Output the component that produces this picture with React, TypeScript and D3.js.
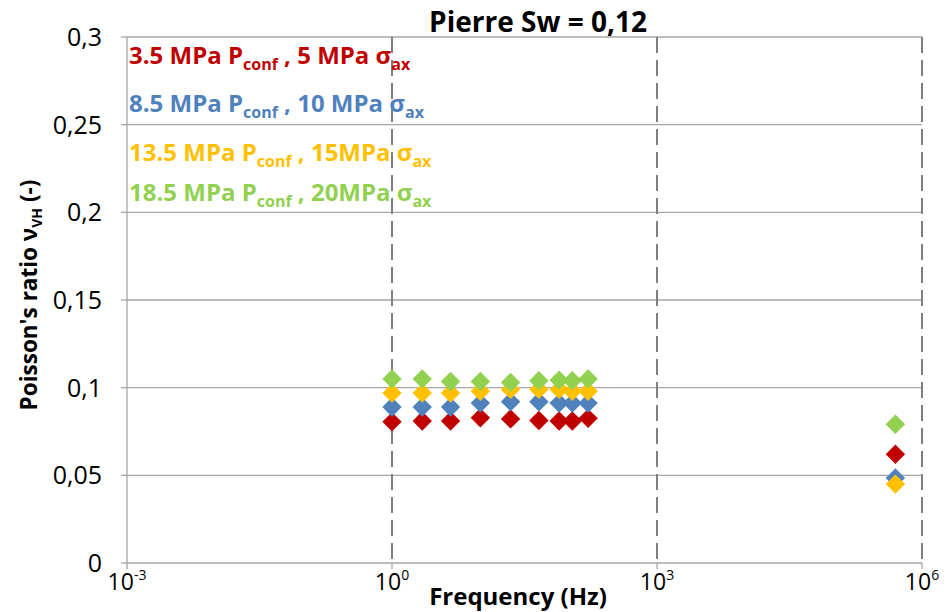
import React from "react";
import * as d3 from "d3";

const frequencies = [1, 2.2, 4.6, 10, 22, 46, 78, 110, 166, 5e5];
const red = [0.0805, 0.081, 0.081, 0.0828, 0.0822, 0.0813, 0.081, 0.081, 0.0825, 0.062];
const blue = [0.089, 0.089, 0.089, 0.0912, 0.092, 0.092, 0.0912, 0.0912, 0.0912, 0.0485];
const yellow = [0.097, 0.097, 0.097, 0.098, 0.099, 0.099, 0.099, 0.098, 0.098, 0.045];
const green = [0.105, 0.105, 0.1035, 0.1035, 0.103, 0.104, 0.1043, 0.104, 0.105, 0.0791];

const seriesNames = [
  ["3.5 MPa P", "conf", " , 5 MPa σ", "ax"],
  ["8.5 MPa P", "conf", " , 10 MPa σ", "ax"],
  ["13.5 MPa P", "conf", " , 15MPa σ", "ax"],
  ["18.5 MPa P", "conf", " , 20MPa σ", "ax"],
];
const seriesColors = ["#C00000", "#4F81BD", "#FFC000", "#92D050"];
const seriesValues = [red, blue, yellow, green];

const yTicks = [0, 0.05, 0.1, 0.15, 0.2, 0.25, 0.3];
const yTickLabels = ["0", "0,05", "0,1", "0,15", "0,2", "0,25", "0,3"];
const xTicks = [1e-3, 1e0, 1e3, 1e6];
const xTickExp = ["-3", "0", "3", "6"];

const FONT = "'Open Sans', Lato, sans-serif";

export default function App() {
  const x = d3.scaleLog().domain([1e-3, 1e6]).range([127, 922]);
  const y = d3.scaleLinear().domain([0, 0.3]).range([563, 37]);
  const diamond = d3.symbol().type(d3.symbolDiamond2).size(240);
  const legendY = [64, 112, 161, 201];

  return (
    <svg width={951} height={612} style={{ position: "absolute", left: 0, top: 0, background: "#fff" }}
      fontFamily={FONT}>
      {/* horizontal gridlines */}
      {yTicks.map((t, i) => (
        <line key={"g" + i} x1={127} x2={922} y1={y(t)} y2={y(t)} stroke="#A6A6A6" strokeWidth={1.3} />
      ))}
      {/* y ticks */}
      {yTicks.map((t, i) => (
        <line key={"yt" + i} x1={121} x2={127} y1={y(t)} y2={y(t)} stroke="#A6A6A6" strokeWidth={1.3} />
      ))}
      {/* left axis */}
      <line x1={127} x2={127} y1={y(0.3)} y2={y(0)} stroke="#A6A6A6" strokeWidth={1.3} />
      {/* vertical dashed gridlines */}
      {xTicks.slice(1).map((t, i) => (
        <line key={"v" + i} x1={x(t)} x2={x(t)} y1={y(0.3)} y2={y(0)} stroke="#7F7F7F" strokeWidth={2}
          strokeDasharray="16,7" />
      ))}
      {/* x ticks */}
      {xTicks.map((t, i) => (
        <line key={"xt" + i} x1={x(t)} x2={x(t)} y1={563} y2={569} stroke="#A6A6A6" strokeWidth={1.3} />
      ))}
      {/* y tick labels */}
      {yTicks.map((t, i) => (
        <text key={"yl" + i} x={102} y={y(t) + 9} textAnchor="end" fontSize={25} fill="#000">
          {yTickLabels[i]}
        </text>
      ))}
      {/* x tick labels */}
      {xTicks.map((t, i) => (
        <text key={"xl" + i} x={x(t)} y={590} textAnchor="middle" fontSize={23} fill="#000">
          10<tspan fontSize={14} dy={-10}>{xTickExp[i]}</tspan>
        </text>
      ))}
      {/* data */}
      {seriesValues.map((vals, si) =>
        vals.map((v, j) => (
          <path key={"p" + si + "-" + j} d={diamond() as string}
            transform={`translate(${x(frequencies[j])},${y(v)})`} fill={seriesColors[si]} />
        ))
      )}
      {/* legend text */}
      {seriesNames.map((n, i) => (
        <text key={"lg" + i} x={129} y={legendY[i]} fontSize={24} fontWeight="bold" fill={seriesColors[i]}>
          {n[0]}
          <tspan fontSize={16} dy={6}>{n[1]}</tspan>
          <tspan fontSize={24} dy={-6}>{n[2]}</tspan>
          <tspan fontSize={16} dy={6}>{n[3]}</tspan>
        </text>
      ))}
      {/* title */}
      <text x={538} y={32} textAnchor="middle" fontSize={28} fontWeight="bold" fill="#000">
        Pierre Sw = 0,12
      </text>
      {/* x axis title */}
      <text x={518} y={605} textAnchor="middle" fontSize={24} fontWeight="bold" fill="#000">
        Frequency (Hz)
      </text>
      {/* y axis title */}
      <text transform="translate(37,295) rotate(-90)" textAnchor="middle" fontSize={22.5} fontWeight="bold" fill="#000">
        Poisson's ratio ν<tspan fontSize={14} dy={5}>VH</tspan><tspan fontSize={22.5} dy={-5}> (-)</tspan>
      </text>
    </svg>
  );
}
